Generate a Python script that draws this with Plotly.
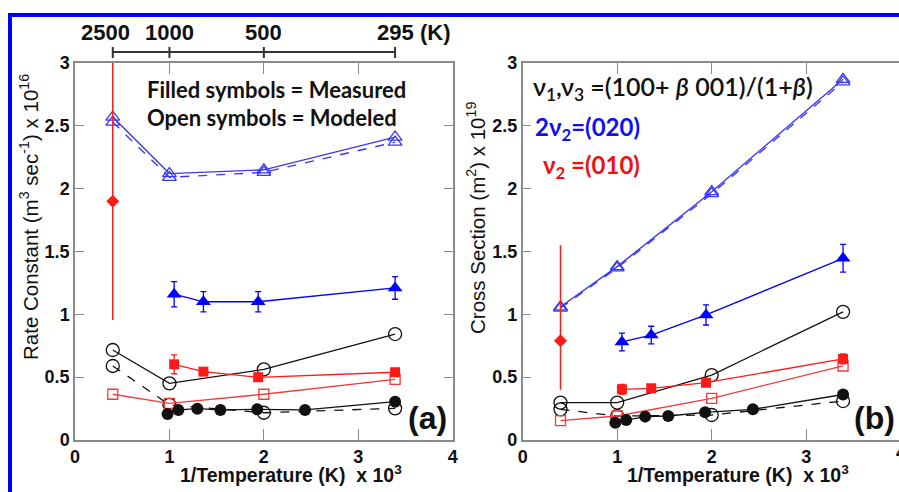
import plotly.graph_objects as go

W, H = 899, 492

# ---------------- data (x in 1000/T, K^-1) ----------------
x_model = [0.4, 1.0, 2.0, 3.39]
x_meas4 = [1.05, 1.36, 1.94, 3.39]
x_meas7 = [0.98, 1.095, 1.296, 1.54, 1.93, 2.436, 3.39]
x_2500 = [0.4]

# panel (a): rate constants x 1e16 (m^3 s^-1)
a_mod020_solid = [2.57, 2.12, 2.15, 2.41]
a_mod020_dash = [2.53, 2.09, 2.13, 2.37]
a_meas020 = [1.16, 1.10, 1.10, 1.21]
a_meas020_err = [0.10, 0.08, 0.08, 0.09]
a_diamond = [1.90]
a_diamond_up = [1.85]
a_diamond_dn = [0.945]
a_mod100_solid = [0.716, 0.451, 0.562, 0.843]
a_mod100_dash = [0.589, 0.28, 0.217, 0.252]
a_meas010 = [0.602, 0.544, 0.499, 0.539]
a_meas010_err = [0.075, 0.03, 0.03, 0.03]
a_mod010 = [0.364, 0.292, 0.364, 0.483]
a_meas100 = [0.207, 0.239, 0.249, 0.239, 0.244, 0.239, 0.305]

# panel (b): cross sections x 1e19 (m^2)
b_mod020_solid = [1.06, 1.38, 1.976, 2.87]
b_mod020_dash = [1.05, 1.37, 1.96, 2.85]
b_meas020 = [0.78, 0.835, 0.995, 1.446]
b_meas020_err = [0.07, 0.07, 0.08, 0.11]
b_diamond = [0.79]
b_diamond_up = [0.76]
b_diamond_dn = [0.39]
b_mod100_solid = [0.297, 0.297, 0.517, 1.02]
b_mod100_dash = [0.244, 0.19, 0.199, 0.31]
b_meas010 = [0.403, 0.411, 0.456, 0.645]
b_meas010_err = [0.04, 0.03, 0.03, 0.04]
b_mod010 = [0.154, 0.191, 0.332, 0.589]
b_meas100 = [0.138, 0.159, 0.186, 0.191, 0.22, 0.244, 0.362]

# top temperature scale
temps = [2500, 1000, 500, 295]
temp_labels = ["2500", "1000", "500", "295"]

y_ticks = [0, 0.5, 1, 1.5, 2, 2.5, 3]
y_ticktext = ["0", "0.5", "1", "1.5", "2", "2.5", "3"]
x_ticks = [0, 1, 2, 3, 4]

BLUE = "#0000ff"
BLUE_M = "#3a3af0"
RED = "#ff1a1a"
RED_M = "#f03c3c"
BLACK = "#111111"
GRAY = "#8a8a8a"
TICKFONT = dict(family="Liberation Sans", size=18, color="#111", weight="bold")


def px(x):
    return x / W


def py(y):
    return 1 - y / H


fig = go.Figure()


def add_panel(xa, ya, d):
    (mod020s, mod020d, meas020, meas020e, dia, diau, diad,
     mod100s, mod100d, meas010, meas010e, mod010, meas100) = d
    common = dict(xaxis=xa, yaxis=ya, showlegend=False)
    fig.add_trace(go.Scatter(x=x_model, y=mod020s, mode="lines+markers",
                             line=dict(color=BLUE_M, width=1.4),
                             marker=dict(symbol="triangle-up-open", size=12, color=BLUE_M,
                                         line=dict(width=1.3)), **common))
    fig.add_trace(go.Scatter(x=x_model, y=mod020d, mode="lines+markers",
                             line=dict(color=BLUE_M, width=1.4, dash="dash"),
                             marker=dict(symbol="triangle-up-open", size=12, color=BLUE_M,
                                         line=dict(width=1.3)), **common))
    fig.add_trace(go.Scatter(x=x_model, y=mod100s, mode="lines+markers",
                             line=dict(color=BLACK, width=1.3),
                             marker=dict(symbol="circle-open", size=13, color=BLACK,
                                         line=dict(width=1.3)), **common))
    fig.add_trace(go.Scatter(x=x_model, y=mod100d, mode="lines+markers",
                             line=dict(color=BLACK, width=1.3, dash="dash"),
                             marker=dict(symbol="circle-open", size=13, color=BLACK,
                                         line=dict(width=1.3)), **common))
    fig.add_trace(go.Scatter(x=x_model, y=mod010, mode="lines+markers",
                             line=dict(color=RED_M, width=1.3),
                             marker=dict(symbol="square-open", size=10, color=RED_M,
                                         line=dict(width=1.3)), **common))
    fig.add_trace(go.Scatter(x=x_meas7, y=meas100, mode="lines+markers",
                             line=dict(color=BLACK, width=1.3),
                             marker=dict(symbol="circle", size=12, color=BLACK), **common))
    fig.add_trace(go.Scatter(x=x_meas4, y=meas010, mode="lines+markers",
                             line=dict(color=RED, width=1.3),
                             marker=dict(symbol="square", size=10, color=RED),
                             error_y=dict(type="data", array=meas010e, color=RED,
                                          thickness=1.3, width=3), **common))
    fig.add_trace(go.Scatter(x=x_meas4, y=meas020, mode="lines+markers",
                             line=dict(color=BLUE, width=1.3),
                             marker=dict(symbol="triangle-up", size=13, color=BLUE),
                             error_y=dict(type="data", array=meas020e, color=BLUE,
                                          thickness=1.3, width=3), **common))
    fig.add_trace(go.Scatter(x=x_2500, y=dia, mode="markers",
                             marker=dict(symbol="diamond", size=10, color=RED),
                             error_y=dict(type="data", symmetric=False, array=diau,
                                          arrayminus=diad, color=RED, thickness=1.5,
                                          width=0), **common))


add_panel("x", "y", (a_mod020_solid, a_mod020_dash, a_meas020, a_meas020_err,
                     a_diamond, a_diamond_up, a_diamond_dn, a_mod100_solid,
                     a_mod100_dash, a_meas010, a_meas010_err, a_mod010, a_meas100))
add_panel("x2", "y2", (b_mod020_solid, b_mod020_dash, b_meas020, b_meas020_err,
                       b_diamond, b_diamond_up, b_diamond_dn, b_mod100_solid,
                       b_mod100_dash, b_meas010, b_meas010_err, b_mod010, b_meas100))

ydom = [py(440), py(63)]
axis_common = dict(showline=True, linecolor=GRAY, linewidth=1.5, ticks="inside",
                   tickcolor=GRAY, tickwidth=1.3, showgrid=False, zeroline=False,
                   tickfont=TICKFONT, automargin=False)
x_right_b = (W - 522.7) / 94.5

fig.update_layout(
    width=W, height=H, margin=dict(l=0, r=0, t=0, b=0, pad=0, autoexpand=False),
    paper_bgcolor="white", plot_bgcolor="white",
    xaxis=dict(domain=[px(75), px(452.7)], range=[0, 4], tickvals=x_ticks,
               ticklen=11, mirror="ticks", anchor="y", **axis_common),
    yaxis=dict(domain=ydom, range=[0, 3], tickvals=y_ticks, ticktext=y_ticktext,
               ticklen=9, mirror="ticks", anchor="x", **axis_common),
    xaxis2=dict(domain=[px(522.7), 1], range=[0, x_right_b], tickvals=x_ticks,
                ticklen=11, mirror="ticks", anchor="y2", **axis_common),
    yaxis2=dict(domain=ydom, range=[0, 3], tickvals=y_ticks, ticktext=y_ticktext,
                ticklen=9, mirror=False, anchor="x2", **axis_common),
    yaxis3=dict(range=[0, 3], overlaying="y2", anchor="x2", side="right",
                tickvals=y_ticks, ticks="inside", ticklen=9, tickcolor=GRAY,
                tickwidth=1.3, showticklabels=False, showline=False,
                showgrid=False, zeroline=False, automargin=False),
)

shapes = []
annotations = []


def note(x, y, text, font, xanchor="center", **kw):
    annotations.append(dict(xref="paper", yref="paper", x=px(x), y=py(y), text=text,
                            showarrow=False, xanchor=xanchor, yanchor="middle",
                            font=font, **kw))


# blue frame
shapes.append(dict(type="line", xref="paper", yref="paper", x0=px(8), x1=1.02,
                   y0=py(15), y1=py(15), line=dict(color=BLUE, width=4)))
shapes.append(dict(type="line", xref="paper", yref="paper", x0=px(10), x1=px(10),
                   y0=-0.02, y1=py(13), line=dict(color=BLUE, width=4)))

# temperature scale above panel (a)
tx = [1000.0 / t for t in temps]
shapes.append(dict(type="line", xref="x", yref="paper", x0=tx[0], x1=tx[-1],
                   y0=py(52), y1=py(52), line=dict(color="#333", width=2)))
LBL = dict(family="Liberation Sans", size=22, color="#111", weight="bold")
for i, (xv, lab) in enumerate(zip(tx, temp_labels)):
    shapes.append(dict(type="line", xref="x", yref="paper", x0=xv, x1=xv,
                       y0=py(47), y1=py(58), line=dict(color="#333", width=2)))
    annotations.append(dict(xref="x", yref="paper", x=xv, y=py(32), text=lab,
                            showarrow=False, xanchor="center", yanchor="middle",
                            xshift=-7 if i == 0 else 0, font=LBL))
annotations.append(dict(xref="x", yref="paper", x=tx[-1], y=py(32), text="(K)",
                        showarrow=False, xanchor="left", yanchor="middle", xshift=23,
                        font=LBL))

# partially visible "4" at the right end of panel (b)
note(901, 453, "4", TICKFONT)

# axis titles
title_font = dict(family="Liberation Sans", size=20.5, color="#111")
xtitle_font = dict(family="Liberation Sans", size=19.5, color="#111", weight="bold")
note(29, 217, "Rate Constant (m<sup>3</sup> sec<sup>-1</sup>) x 10<sup>16</sup>",
     title_font, textangle=-90)
note(476, 218, "Cross Section (m<sup>2</sup>) x 10<sup>19</sup>", title_font,
     textangle=-90)
note(291, 474, "1/Temperature (K)  x 10<sup>3</sup>", xtitle_font)
note(738, 474, "1/Temperature (K)  x 10<sup>3</sup>", xtitle_font)

# panel labels
PANEL = dict(family="Liberation Sans", size=32, color="#111", weight="bold")
note(427, 418, "(a)", PANEL)
note(874, 418, "(b)", PANEL)

# in-plot notes
note_font = dict(family="Lato", size=22, color="#111", weight="bold")
note(145, 89, "Filled symbols = Measured", note_font, xanchor="left")
note(145, 117, "Open symbols = Modeled", note_font, xanchor="left")
note(531, 88, "ν<sub>1</sub>,ν<sub>3</sub> =(100+ <i>β</i> 001)/(1+<i>β</i>)",
     dict(family="Lato", size=25, color="#111", weight=600), xanchor="left")
note(533, 128, "2ν<sub>2</sub>=(020)",
     dict(family="Lato", size=24, color="#1010f0", weight="bold"), xanchor="left")
note(541, 166, "ν<sub>2</sub> =(010)",
     dict(family="Lato", size=24, color="#f01010", weight="bold"), xanchor="left")

fig.update_layout(shapes=shapes, annotations=annotations)
fig.write_html("out.html",
               post_script="document.body.style.margin='0';document.body.style.overflow='hidden';")
